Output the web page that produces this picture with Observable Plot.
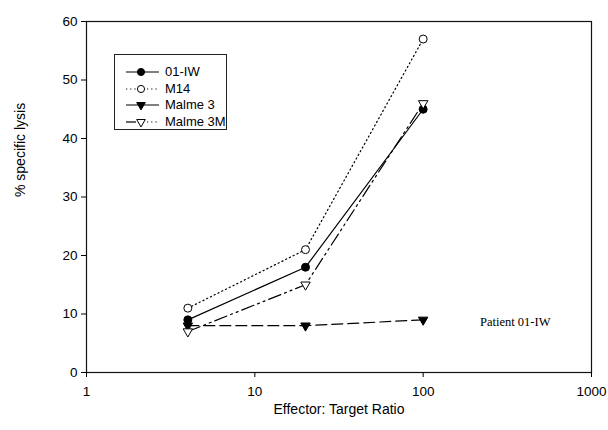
<!DOCTYPE html>
<html>
<head>
<meta charset="utf-8">
<script src="https://cdn.jsdelivr.net/npm/d3@7"></script>
<script src="https://cdn.jsdelivr.net/npm/@observablehq/plot@0.6"></script>
<style>
  html, body { margin: 0; padding: 0; background: #fff; }
  #wrap { position: relative; width: 608px; height: 430px; }
  #legend { position: absolute; left: 114px; top: 54px; width: 113px; height: 76px;
            border: 1.3px solid #222; background: #fff; box-sizing: border-box;
            font-family: "Liberation Sans", Arial, sans-serif; font-size: 13px; padding-top: 9px; }
  .row { position: relative; height: 16.5px; }
  .row svg { position: absolute; left: 8px; top: 0; }
  .row span { position: absolute; left: 50px; top: 0px; line-height: 16px; }
</style>
</head>
<body>
<div id="wrap"><div id="chart"></div><div id="legend"></div></div>
<script>
const ratios = [4, 20, 100];
const seriesNames = ["01-IW", "M14", "Malme 3", "Malme 3M"];
const iw01 = [9, 18, 45];
const m14 = [11, 21, 57];
const malme3 = [8, 8, 9];
const malme3M = [7, 15, 46];
const xTicks = [1, 10, 100, 1000];
const yTicks = [0, 10, 20, 30, 40, 50, 60];
const xTitle = "Effector: Target Ratio";
const yTitle = "% specific lysis";
const note = "Patient 01-IW";

const seriesValues = [iw01, m14, malme3, malme3M];
const styles = {
  "01-IW":    {dash: null,              symbol: "circle",   rotate: 0,   fill: "#000"},
  "M14":      {dash: "1.2,3",           symbol: "circle",   rotate: 0,   fill: "#fff"},
  "Malme 3":  {dash: "11,5",            symbol: "triangle", rotate: 180, fill: "#000"},
  "Malme 3M": {dash: "13,4,2,4,2,4",    symbol: "triangle", rotate: 180, fill: "#fff"}
};
const data = seriesNames.flatMap((s, i) => ratios.map((r, j) => ({series: s, x: r, y: seriesValues[i][j]})));

const marks = [
  Plot.frame({stroke: "#111", strokeWidth: 1.2}),
  Plot.axisX({ticks: xTicks, tickFormat: d => String(d), tickSize: 5, tickPadding: 9, label: null, fontSize: 13.5}),
  Plot.axisY({ticks: yTicks, tickSize: 5, tickPadding: 4, label: null, fontSize: 13.5})
];
for (const s of seriesNames) {
  const st = styles[s];
  const d = data.filter(r => r.series === s);
  marks.push(Plot.line(d, {x: "x", y: "y", stroke: "#000", strokeWidth: 1.2, strokeDasharray: st.dash}));
}
for (const s of seriesNames) {
  const st = styles[s];
  const d = data.filter(r => r.series === s);
  marks.push(Plot.dot(d, {x: "x", y: "y", symbol: st.symbol, rotate: st.rotate,
    r: st.symbol === "circle" ? 4 : 3.5, fill: st.fill, stroke: "#000", strokeWidth: 1}));
}
marks.push(
  Plot.text([xTitle], {frameAnchor: "bottom", dy: 41, fontSize: 14, fill: "#000"}),
  Plot.text([yTitle], {frameAnchor: "left", dx: -66, rotate: -90, fontSize: 14, fill: "#000"}),
  Plot.text([note], {frameAnchor: "bottom-right", dx: -41, dy: -47, textAnchor: "end", fontSize: 12.5,
                     fontFamily: "Liberation Serif, Times New Roman, serif", fill: "#000"})
);

const chart = Plot.plot({
  width: 608, height: 430,
  marginLeft: 86, marginRight: 17, marginTop: 21, marginBottom: 58,
  x: {type: "log", domain: [1, 1000]},
  y: {domain: [0, 60]},
  style: {fontFamily: "Liberation Sans, Arial, sans-serif", fontSize: "13px", color: "#000", background: "#fff"},
  marks
});
document.getElementById("chart").appendChild(chart);

// Legend
const leg = d3.select("#legend");
for (const s of seriesNames) {
  const st = styles[s];
  const row = leg.append("div").attr("class", "row");
  const svg = row.append("svg").attr("width", 40).attr("height", 16);
  if (s === "Malme 3M") {
    svg.append("line").attr("x1", 3).attr("x2", 13).attr("y1", 8).attr("y2", 8).attr("stroke", "#000").attr("stroke-width", 1.2);
    svg.append("line").attr("x1", 24).attr("x2", 36).attr("y1", 8).attr("y2", 8).attr("stroke", "#000").attr("stroke-width", 1.2).attr("stroke-dasharray", "1.2,3");
  } else {
    svg.append("line").attr("x1", 3).attr("x2", 36).attr("y1", 8).attr("y2", 8)
      .attr("stroke", "#000").attr("stroke-width", 1.2).attr("stroke-dasharray", s === "M14" ? "1.2,3" : null);
  }
  const sym = st.symbol === "circle" ? d3.symbolCircle : d3.symbolTriangle;
  svg.append("path").attr("d", d3.symbol(sym, st.symbol === "circle" ? 40 : 32)())
    .attr("transform", `translate(18,8) rotate(${st.rotate})`)
    .attr("fill", st.fill).attr("stroke", "#000").attr("stroke-width", 1);
  row.append("span").text(s);
}
</script>
</body>
</html>
